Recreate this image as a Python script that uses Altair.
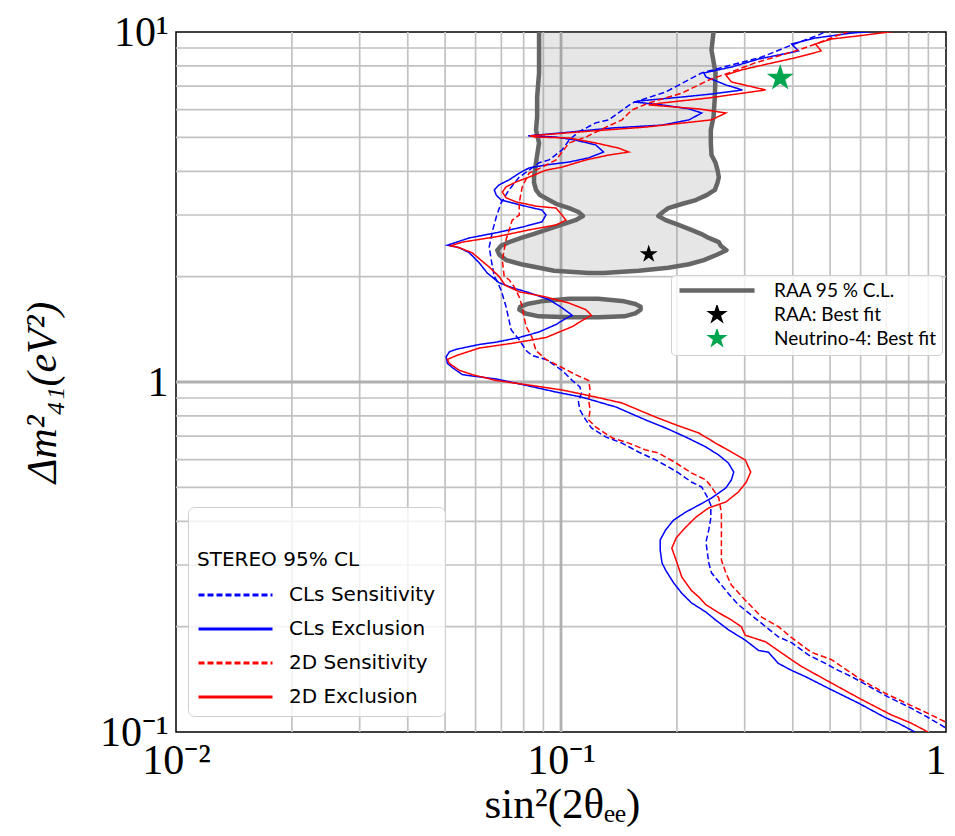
import altair as alt
import pandas as pd

# ---------------- data ----------------
series_names = ["CLs Sensitivity", "CLs Exclusion", "2D Sensitivity", "2D Exclusion"]
series_colors = ["#0000ff", "#0000ff", "#ff0000", "#ff0000"]

# CLs Exclusion (blue solid)
cls_excl_x = [0.831, 0.751, 0.695, 0.592, 0.504, 0.431, 0.397, 0.367, 0.346, 0.326,
              0.301, 0.272, 0.252, 0.238, 0.218, 0.206, 0.196, 0.187, 0.183, 0.181,
              0.181, 0.187, 0.196, 0.211, 0.228, 0.246, 0.268, 0.277, 0.281, 0.272,
              0.257, 0.238, 0.211, 0.187, 0.166, 0.139, 0.113, 0.0971, 0.0826, 0.0679,
              0.0588, 0.0554, 0.0522, 0.0507, 0.0503, 0.0513, 0.0535, 0.0613, 0.0679, 0.0779,
              0.0877, 0.0971, 0.103, 0.107, 0.1006, 0.0931, 0.0826, 0.0747, 0.0691, 0.0643,
              0.0613, 0.0578, 0.0544, 0.0507, 0.0578, 0.0679, 0.0793, 0.0893, 0.0914, 0.0893,
              0.0826, 0.0747, 0.0699, 0.0679, 0.0671, 0.0691, 0.0733, 0.0779, 0.0826, 0.0914,
              0.105, 0.118, 0.129, 0.123, 0.109, 0.0971, 0.0821, 0.1006, 0.136, 0.183,
              0.215, 0.232, 0.215, 0.183, 0.155, 0.159, 0.206, 0.246, 0.296, 0.268,
              0.238, 0.235, 0.277, 0.326, 0.414, 0.397, 0.458, 0.568, 0.695]
cls_excl_y = [0.100, 0.106, 0.110, 0.121, 0.132, 0.144, 0.150, 0.157, 0.169, 0.171,
              0.183, 0.196, 0.209, 0.220, 0.234, 0.249, 0.267, 0.290, 0.304, 0.331,
              0.354, 0.378, 0.403, 0.425, 0.445, 0.466, 0.498, 0.525, 0.553, 0.587,
              0.618, 0.652, 0.696, 0.739, 0.779, 0.848, 0.906, 0.936, 0.974, 1.02,
              1.04, 1.05, 1.10, 1.13, 1.18, 1.22, 1.24, 1.28, 1.30, 1.34,
              1.39, 1.46, 1.52, 1.55, 1.63, 1.72, 1.80, 1.86, 1.92, 2.05,
              2.19, 2.34, 2.42, 2.46, 2.58, 2.67, 2.77, 2.87, 3.00, 3.10,
              3.16, 3.25, 3.31, 3.42, 3.54, 3.66, 3.78, 3.95, 4.09, 4.17,
              4.25, 4.37, 4.54, 4.76, 4.91, 5.01, 5.05, 5.15, 5.32, 5.42,
              5.61, 5.87, 6.03, 6.19, 6.31, 6.35, 6.52, 6.65, 6.83, 7.06,
              7.44, 7.64, 7.94, 8.37, 8.83, 9.24, 9.61, 9.93, 10.1]

# 2D Exclusion (red solid)
d2_excl_x = [0.898, 0.812, 0.720, 0.602, 0.504, 0.421, 0.390, 0.340, 0.301, 0.294,
             0.277, 0.257, 0.238, 0.228, 0.218, 0.206, 0.199, 0.194, 0.199, 0.211,
             0.224, 0.242, 0.268, 0.289, 0.303, 0.311, 0.301, 0.277, 0.252, 0.228,
             0.199, 0.176, 0.144, 0.123, 0.1006, 0.0826, 0.0679, 0.0588, 0.0544, 0.0513,
             0.0507, 0.0535, 0.0613, 0.0747, 0.0914, 0.107, 0.116, 0.120, 0.116, 0.105,
             0.0914, 0.0779, 0.0716, 0.0691, 0.0651, 0.0588, 0.0544, 0.0517, 0.0554, 0.0679,
             0.0826, 0.0971, 0.103, 0.1006, 0.0971, 0.0861, 0.0765, 0.0720, 0.0704, 0.0720,
             0.0765, 0.0826, 0.0914, 0.1006, 0.116, 0.133, 0.150, 0.141, 0.123, 0.105,
             0.0861, 0.0830, 0.111, 0.166, 0.246, 0.268, 0.228, 0.169, 0.183, 0.242,
             0.340, 0.277, 0.268, 0.294, 0.352, 0.414, 0.474, 0.458, 0.504, 0.617, 0.760]
d2_excl_y = [0.100, 0.106, 0.112, 0.124, 0.138, 0.154, 0.163, 0.181, 0.189, 0.200,
             0.209, 0.219, 0.231, 0.243, 0.254, 0.277, 0.310, 0.335, 0.358, 0.385,
             0.411, 0.437, 0.454, 0.485, 0.518, 0.553, 0.599, 0.631, 0.669, 0.715,
             0.754, 0.794, 0.871, 0.906, 0.949, 0.980, 1.01, 1.05, 1.08, 1.13,
             1.16, 1.19, 1.25, 1.29, 1.34, 1.44, 1.52, 1.55, 1.61, 1.68,
             1.75, 1.81, 1.89, 2.00, 2.13, 2.34, 2.42, 2.45, 2.51, 2.60,
             2.72, 2.81, 2.90, 3.00, 3.14, 3.18, 3.27, 3.36, 3.49, 3.61,
             3.73, 3.85, 4.03, 4.11, 4.31, 4.45, 4.54, 4.66, 4.82, 4.98,
             5.01, 5.05, 5.18, 5.35, 5.61, 5.87, 6.03, 6.19, 6.27, 6.48,
             6.83, 7.20, 7.54, 7.79, 8.15, 8.48, 8.83, 9.24, 9.55, 9.80, 10.1]

# CLs Sensitivity (blue dashed)
cls_sens_x = [0.994, 0.898, 0.812, 0.707, 0.639, 0.568, 0.525, 0.486, 0.439, 0.397,
              0.367, 0.340, 0.307, 0.289, 0.277, 0.261, 0.246, 0.242, 0.240, 0.238,
              0.242, 0.245, 0.245, 0.240, 0.232, 0.218, 0.202, 0.190, 0.176, 0.159,
              0.144, 0.131, 0.120, 0.116, 0.112, 0.111, 0.113, 0.112, 0.107, 0.1006,
              0.0914, 0.0841, 0.0812, 0.0779, 0.0742, 0.0733, 0.0720, 0.0699, 0.0679, 0.0671,
              0.0659, 0.0651, 0.0665, 0.0679, 0.0699, 0.0733, 0.0779, 0.0826, 0.0877, 0.0931,
              0.1006, 0.105, 0.111, 0.123, 0.133, 0.153, 0.187, 0.232, 0.277, 0.332,
              0.397, 0.466, 0.495]
cls_sens_y = [0.103, 0.110, 0.117, 0.126, 0.134, 0.144, 0.150, 0.157, 0.166, 0.180,
              0.187, 0.200, 0.219, 0.231, 0.243, 0.263, 0.285, 0.304, 0.325, 0.349,
              0.378, 0.409, 0.445, 0.469, 0.501, 0.518, 0.550, 0.572, 0.599, 0.631,
              0.669, 0.696, 0.739, 0.779, 0.832, 0.877, 0.930, 0.968, 1.01, 1.08,
              1.16, 1.19, 1.23, 1.32, 1.41, 1.50, 1.64, 1.83, 1.96, 2.00,
              2.23, 2.43, 2.72, 2.96, 3.25, 3.54, 3.85, 4.03, 4.23, 4.31,
              4.60, 4.91, 5.18, 5.50, 5.61, 6.27, 6.74, 7.64, 8.05, 8.48,
              9.18, 9.80, 10.1]

# 2D Sensitivity (red dashed)
d2_sens_x = [0.994, 0.898, 0.812, 0.695, 0.602, 0.504, 0.447, 0.397, 0.367, 0.332,
             0.301, 0.277, 0.268, 0.261, 0.261, 0.261, 0.261, 0.257, 0.246, 0.238,
             0.218, 0.199, 0.179, 0.166, 0.150, 0.136, 0.123, 0.118, 0.119, 0.118,
             0.119, 0.118, 0.109, 0.1006, 0.0914, 0.0861, 0.0841, 0.0812, 0.0802, 0.0793,
             0.0779, 0.0756, 0.0733, 0.0712, 0.0704, 0.0720, 0.0747, 0.0779, 0.0779, 0.0793,
             0.0826, 0.0893, 0.0971, 0.1006, 0.105, 0.116, 0.131, 0.144, 0.153, 0.169,
             0.206, 0.242, 0.277, 0.318, 0.367, 0.414, 0.466, 0.525, 0.568]
d2_sens_y = [0.107, 0.113, 0.119, 0.129, 0.141, 0.161, 0.169, 0.186, 0.200, 0.213,
             0.238, 0.263, 0.285, 0.310, 0.338, 0.385, 0.422, 0.466, 0.501, 0.525,
             0.550, 0.587, 0.627, 0.639, 0.669, 0.692, 0.744, 0.779, 0.832, 0.888,
             0.949, 1.01, 1.05, 1.10, 1.16, 1.23, 1.34, 1.44, 1.53, 1.64,
             1.75, 1.87, 1.96, 2.00, 2.23, 2.55, 2.90, 3.00, 3.25, 3.61,
             3.95, 4.11, 4.31, 4.54, 4.82, 5.01, 5.35, 5.61, 5.99, 6.27,
             6.69, 7.29, 7.69, 8.15, 8.54, 8.88, 9.30, 9.80, 10.1]

# RAA 95% C.L. allowed region: main band (left / right edge for each dm2)
raa_main_dm2 = [2.05, 2.08, 2.12, 2.17, 2.23, 2.31, 2.38, 2.45, 2.51, 2.58,
                2.65, 2.72, 2.81, 2.90, 2.98, 3.06, 3.14, 3.23, 3.31, 3.42,
                3.54, 3.71, 3.85, 4.03, 4.23, 4.45, 4.82, 5.25, 5.72, 6.52,
                7.64, 8.88, 10.0, 10.8]
raa_main_left = [0.118, 0.0959, 0.0877, 0.0788, 0.0720, 0.0691, 0.0683, 0.0699, 0.0733, 0.0788,
                 0.0851, 0.0914, 0.100, 0.109, 0.114, 0.111, 0.105, 0.0971, 0.0931, 0.0882,
                 0.0861, 0.0851, 0.0851, 0.0856, 0.0861, 0.0867, 0.0877, 0.0861, 0.0867, 0.0867,
                 0.0877, 0.0877, 0.0877, 0.0882]
raa_main_right = [0.129, 0.159, 0.190, 0.215, 0.235, 0.254, 0.269, 0.260, 0.257, 0.242,
                  0.231, 0.218, 0.202, 0.187, 0.179, 0.184, 0.190, 0.207, 0.224, 0.239,
                  0.251, 0.255, 0.257, 0.255, 0.252, 0.246, 0.245, 0.245, 0.249, 0.251,
                  0.252, 0.246, 0.249, 0.249]
# RAA island
raa_isle_dm2 = [1.53, 1.54, 1.57, 1.61, 1.64, 1.67, 1.70, 1.73]
raa_isle_left = [0.105, 0.0877, 0.0808, 0.0779, 0.0783, 0.0816, 0.0888, 0.105]
raa_isle_right = [0.125, 0.146, 0.156, 0.161, 0.161, 0.156, 0.146, 0.125]

# best fits
raa_best = [0.169, 2.32]
nu4_best = [0.371, 7.38]
raa_items = ["RAA 95 % C.L.", "RAA: Best fit", "Neutrino-4: Best fit"]

# axes ticks / grid
x_tick_values = [0.01, 0.1, 1]
x_tick_labels = ["10⁻²", "10⁻¹", "1"]
y_tick_values = [0.1, 1, 10]
y_tick_labels = ["10⁻¹", "1", "10¹"]
grid_minor_x = [0.02, 0.03, 0.04, 0.05, 0.06, 0.07, 0.08, 0.09,
                0.2, 0.3, 0.4, 0.5, 0.6, 0.7, 0.8, 0.9]
grid_major_x = [0.1]
grid_minor_y = [0.2, 0.3, 0.4, 0.5, 0.6, 0.7, 0.8, 0.9,
                2, 3, 4, 5, 6, 7, 8, 9]
grid_major_y = [1]

# ---------------- build tables ----------------
def curve(name, xs, ys):
    assert len(xs) == len(ys), name
    return pd.DataFrame({"series": name, "s2": xs, "dm2": ys, "idx": list(range(len(xs)))})

curves = pd.concat([
    curve("CLs Sensitivity", cls_sens_x, cls_sens_y),
    curve("CLs Exclusion", cls_excl_x, cls_excl_y),
    curve("2D Sensitivity", d2_sens_x, d2_sens_y),
    curve("2D Exclusion", d2_excl_x, d2_excl_y),
], ignore_index=True)

def band(name, ys, left, right):
    assert len(ys) == len(left) == len(right), name
    return pd.DataFrame({"part": name, "dm2": ys, "left": left, "right": right})

def outline(name, ys, left, right):
    xs = list(left) + list(reversed(right)) + [left[0]]
    yy = list(ys) + list(reversed(ys)) + [ys[0]]
    return pd.DataFrame({"part": name, "s2": xs, "dm2": yy, "idx": list(range(len(xs)))})

raa_fill = pd.concat([band("main", raa_main_dm2, raa_main_left, raa_main_right),
                      band("isle", raa_isle_dm2, raa_isle_left, raa_isle_right)], ignore_index=True)
raa_line = pd.concat([outline("main", raa_main_dm2, raa_main_left, raa_main_right),
                      outline("isle", raa_isle_dm2, raa_isle_left, raa_isle_right)], ignore_index=True)


def star_path(r):
    pts = [(0, -1), (0.2245, -0.309), (0.951, -0.309), (0.363, 0.118), (0.588, 0.809),
           (0, 0.382), (-0.588, 0.809), (-0.363, 0.118), (-0.951, -0.309), (-0.2245, -0.309)]
    return "M" + "L".join(f"{px * r:.4f},{py * r:.4f}" for px, py in pts) + "Z"


def label_expr(values, labels):
    expr = f"'{labels[-1]}'"
    for v, lab in reversed(list(zip(values[:-1], labels[:-1]))):
        expr = f"datum.value < {v * 1.5} ? '{lab}' : ({expr})"
    return expr

SERIF = "Liberation Serif"
X = alt.Scale(type="log", domain=[0.01, 1], nice=False)
Y = alt.Scale(type="log", domain=[0.1, 10], nice=False)
x_axis = alt.Axis(values=x_tick_values, labelExpr=label_expr(x_tick_values, x_tick_labels),
                  title="sin²(2θₑₑ)", labelFlush=False, labelOverlap=False, labelBound=False,
                  labelAlign={"condition": {"test": "datum.value > 0.5", "value": "right"},
                              "value": "center"},
                  labelBaseline="alphabetic", labelPadding=41,
                  titleFontSize=43,
                  titleX=386, titleY=72, titleAlign="center", titleBaseline="middle")
y_axis = alt.Axis(values=y_tick_values, labelExpr=label_expr(y_tick_values, y_tick_labels),
                  title="Δm²₄₁(eV²)", labelFlush=False, labelOverlap=False, labelBound=False,
                  labelAlign="right", labelBaseline="middle", labelPadding=8,
                  titleFontSize=42,
                  titleX=-134, titleY=360, titleAngle=270, titleAlign="center",
                  titleBaseline="middle", titleFontStyle="italic")

def ex(f):
    return alt.X(f"{f}:Q", scale=X, axis=x_axis)

def ey(f):
    return alt.Y(f"{f}:Q", scale=Y, axis=y_axis)

# ---------------- layers ----------------
gx_minor = alt.Chart(pd.DataFrame({"v": grid_minor_x})).mark_rule(color="#c2c2c2", strokeWidth=1.7).encode(x=ex("v"))
gy_minor = alt.Chart(pd.DataFrame({"v": grid_minor_y})).mark_rule(color="#c2c2c2", strokeWidth=1.7).encode(y=ey("v"))
gx_major = alt.Chart(pd.DataFrame({"v": grid_major_x})).mark_rule(color="#b0b0b0", strokeWidth=2.8).encode(x=ex("v"))
gy_major = alt.Chart(pd.DataFrame({"v": grid_major_y})).mark_rule(color="#b0b0b0", strokeWidth=2.8).encode(y=ey("v"))

raa_area = alt.Chart(raa_fill).mark_area(orient="horizontal", color="#8c8c8c", opacity=0.22,
                                         clip=True).encode(
    y=ey("dm2"), x=ex("left"), x2=alt.X2("right:Q"), detail="part:N")

raa_outline = alt.Chart(raa_line).mark_line(color="#666666", strokeWidth=4.5, clip=True,
                                            strokeJoin="round", strokeCap="round").encode(
    x=ex("s2"), y=ey("dm2"), detail="part:N", order=alt.Order("idx:Q"))

stereo_legend = alt.Legend(
    title=["", "STEREO 95% CL"], orient="none", legendX=12, legendY=475,
    symbolType="stroke", symbolSize=5476, symbolStrokeWidth=3, clipHeight=20,
    rowPadding=14, labelOffset=15, padding=9,
    labelFont="DejaVu Sans", labelFontSize=20, labelColor="black", labelLimit=400,
    titleFont="DejaVu Sans", titleFontSize=20, titleFontWeight="normal", titleColor="black",
    titleLineHeight=34, titlePadding=15,
    fillColor="rgba(255,255,255,0.8)", strokeColor="#d0d0d0", cornerRadius=6)

lines = alt.Chart(curves).mark_line(clip=True).encode(
    x=ex("s2"), y=ey("dm2"),
    color=alt.Color("series:N", scale=alt.Scale(domain=series_names, range=series_colors),
                    legend=stereo_legend),
    strokeDash=alt.StrokeDash("series:N",
                              scale=alt.Scale(domain=series_names,
                                              range=[[6, 3], [1, 0], [6, 3], [1, 0]]),
                              legend=stereo_legend),
    strokeWidth=alt.value(1.5),
    order=alt.Order("idx:Q"))

raa_legend = alt.Legend(
    title="", orient="none", legendX=495, legendY=243,
    symbolSize=5625, symbolStrokeWidth=4.5, clipHeight=19, rowPadding=4,
    labelOffset=17, padding=6, labelFont="Lato", labelFontSize=19, labelColor="black",
    labelLimit=400, fillColor="rgba(255,255,255,0.8)", strokeColor="#d0d0d0", cornerRadius=4)

legend_rows = pd.DataFrame({"item": raa_items, "s2": [raa_best[0]] * 3, "dm2": [raa_best[1]] * 3})
small_star = star_path(0.3)
raa_key = alt.Chart(legend_rows).transform_filter("false").mark_point(
    filled=True, opacity=1).encode(
    x=ex("s2"), y=ey("dm2"),
    fill=alt.Fill("item:N", scale=alt.Scale(domain=raa_items, range=["#666666", "black", "#00a550"]),
                  legend=raa_legend),
    stroke=alt.Stroke("item:N", scale=alt.Scale(domain=raa_items,
                                                range=["#666666", "rgba(0,0,0,0)", "rgba(0,0,0,0)"]),
                      legend=raa_legend),
    shape=alt.Shape("item:N", scale=alt.Scale(domain=raa_items,
                                              range=["stroke", small_star, small_star]),
                    legend=raa_legend))

unit_star = star_path(1)
raa_star = alt.Chart(pd.DataFrame({"s2": [raa_best[0]], "dm2": [raa_best[1]]})).mark_point(
    shape=unit_star, filled=True, color="black", opacity=1, size=360, strokeWidth=0).encode(
    x=ex("s2"), y=ey("dm2"))
nu4_star = alt.Chart(pd.DataFrame({"s2": [nu4_best[0]], "dm2": [nu4_best[1]]})).mark_point(
    shape=unit_star, filled=True, color="#00a550", opacity=1, size=800, strokeWidth=0).encode(
    x=ex("s2"), y=ey("dm2"))

chart = alt.layer(
    gx_minor, gy_minor, gx_major, gy_major, raa_area, raa_outline, lines, raa_key, raa_star, nu4_star
).properties(
    width=770, height=700,
    autosize=alt.AutoSizeParams(type="none"),
    padding={"left": 168, "top": 24, "right": 1, "bottom": 96},
).configure_view(
    stroke="black", strokeWidth=1.5
).configure_axis(
    grid=False, ticks=False, tickSize=0, domain=False,
    labelFont=SERIF, labelFontSize=42, labelColor="black",
    titleFont=SERIF, titleFontWeight="normal", titleColor="black"
)

chart.save("out.html", embed_options={"renderer": "svg", "actions": False})
